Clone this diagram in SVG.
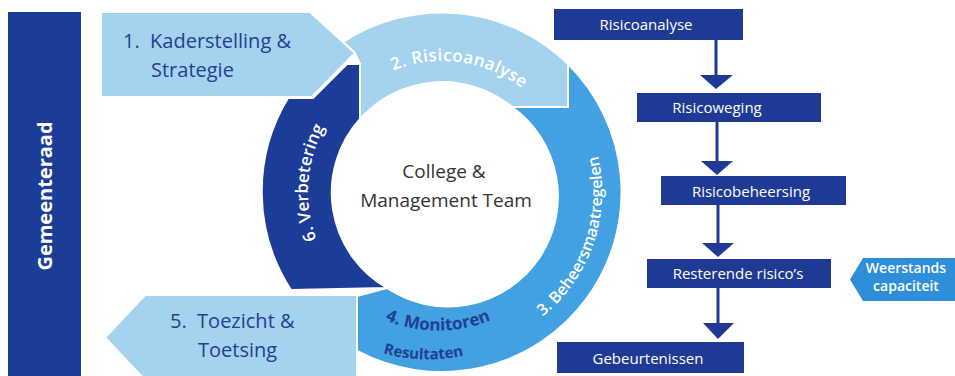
<svg xmlns="http://www.w3.org/2000/svg" width="955" height="376" viewBox="0 0 955 376">
<style>
.dark{fill:#1b3c97}
.light{fill:#a4d3f0}
.mid{fill:#42a1e2}
.seg{stroke:#ffffff;stroke-width:2;stroke-linejoin:miter}
.t{font-family:"Open Sans","Noto Sans","Liberation Sans",sans-serif}
.navy{fill:#233f8e}
.wt{fill:#ffffff;font-weight:600}
.box{fill:#1e3a94}
.bt{fill:#ffffff;font-size:15px;text-anchor:middle}
.conn{stroke:#1e3a94;stroke-width:3;fill:none}
.head{fill:#1e3a94}
</style>
<defs>
<path id="p2" d="M 326.3 130.5 A 131 131 0 0 1 570.1 164.8"/>
<path id="p3" d="M 417 350 A 160 160 0 0 0 519.6 52"/>
<path id="p6" d="M 409.6 322 A 134 134 0 0 1 428 58.7"/>
<path id="p4" d="M 302 216 A 138 138 0 0 0 574 216"/>
<path id="p5" d="M 265 220 A 165 165 0 0 0 591 220"/>
</defs>
<rect width="955" height="376" fill="#ffffff"/>

<g id="gemeenteraad">
<rect x="8" y="12" width="73" height="366" class="dark"/>
<text class="t" transform="translate(52,196) rotate(-90)" font-size="20" font-weight="700" fill="#ffffff" text-anchor="middle">Gemeenteraad</text>
</g>

<g id="seg34">
<path class="mid seg" d="M 568 64 A 180 180 0 0 1 357 351 L 357 296 L 387 288 A 110 110 0 0 0 512 107 Z"/>
<text class="t wt" font-size="16"><textPath href="#p3" startOffset="50%" text-anchor="middle">3. Beheersmaatregelen</textPath></text>
<text class="t navy" font-size="17" font-weight="700"><textPath href="#p4" startOffset="50%" text-anchor="middle">4. Monitoren</textPath></text>
<text class="t navy" font-size="15" font-weight="700"><textPath href="#p5" startOffset="49%" text-anchor="middle">Resultaten</textPath></text>
</g>

<g id="seg2">
<path class="light seg" d="M 343 42 A 180 180 0 0 1 568 64 L 568 107 L 512 107 A 110 110 0 0 0 360 119 L 360 64 L 355 53 Z"/>
<text class="t wt" font-size="17" letter-spacing="0.5"><textPath href="#p2" startOffset="50%" text-anchor="middle">2. Risicoanalyse</textPath></text>
</g>

<g id="seg6">
<path class="dark seg" d="M 288 98 L 313 98 L 347 64 L 360 64 L 360 119 A 110 110 0 0 0 387 288 L 291 290 A 180 180 0 0 1 288 98 Z"/>
<text class="t wt" font-size="17"><textPath href="#p6" startOffset="50%" text-anchor="middle">6. Verbetering</textPath></text>
</g>

<g id="arrow1">
<path class="light seg" d="M 101 12 L 310 12 L 355 53 L 312 97 L 101 97 Z"/>
<text class="t navy" font-size="20" x="123" y="48" xml:space="preserve">1.  Kaderstelling &amp;</text>
<text class="t navy" font-size="20" x="151" y="77">Strategie</text>
</g>

<g id="arrow5">
<path class="light seg" d="M 145 295 L 357 295 L 357 380 L 145 380 L 105 337.5 Z"/>
<text class="t navy" font-size="20" x="170" y="328" xml:space="preserve">5.  Toezicht &amp;</text>
<text class="t navy" font-size="20" x="198" y="357">Toetsing</text>
</g>

<g id="center">
<text class="t" font-size="19" fill="#333333" text-anchor="middle" x="444" y="178">College &amp;</text>
<text class="t" font-size="19" fill="#333333" text-anchor="middle" x="446" y="207">Management Team</text>
</g>

<g id="risicoanalyse">
<rect class="box" x="554" y="9" width="189" height="31"/>
<text class="t bt" x="646" y="30">Risicoanalyse</text>
</g>
<g id="risicoweging">
<rect class="box" x="637" y="93" width="184" height="29"/>
<text class="t bt" x="717" y="113">Risicoweging</text>
</g>
<g id="risicobeheersing">
<rect class="box" x="661" y="176" width="185" height="29"/>
<text class="t bt" x="751" y="197">Risicobeheersing</text>
</g>
<g id="resterende">
<rect class="box" x="647" y="259" width="184" height="29"/>
<text class="t bt" x="738" y="279">Resterende risico’s</text>
</g>
<g id="gebeurtenissen">
<rect class="box" x="557" y="342" width="187" height="31"/>
<text class="t bt" x="648" y="364">Gebeurtenissen</text>
</g>
<g id="weerstands">
<path d="M 863 258 L 957 258 L 957 301 L 863 301 L 850 279.5 Z" fill="#2f8ed9"/>
<text class="t" font-size="14" font-weight="600" fill="#ffffff" text-anchor="middle" x="906" y="273">Weerstands</text>
<text class="t" font-size="14" font-weight="600" fill="#ffffff" text-anchor="middle" x="906" y="291">capaciteit</text>
</g>

<g id="connectors">
<line class="conn" x1="716" y1="40" x2="716" y2="76"/>
<polygon class="head" points="700,75 733,75 716,89"/>
<line class="conn" x1="717" y1="122" x2="717" y2="162"/>
<polygon class="head" points="701,161 733,161 717,175"/>
<line class="conn" x1="718" y1="205" x2="718" y2="244"/>
<polygon class="head" points="702,243 734,243 718,257"/>
<line class="conn" x1="718" y1="288" x2="718" y2="324"/>
<polygon class="head" points="703,323 734,323 718,339"/>
</g>
</svg>
